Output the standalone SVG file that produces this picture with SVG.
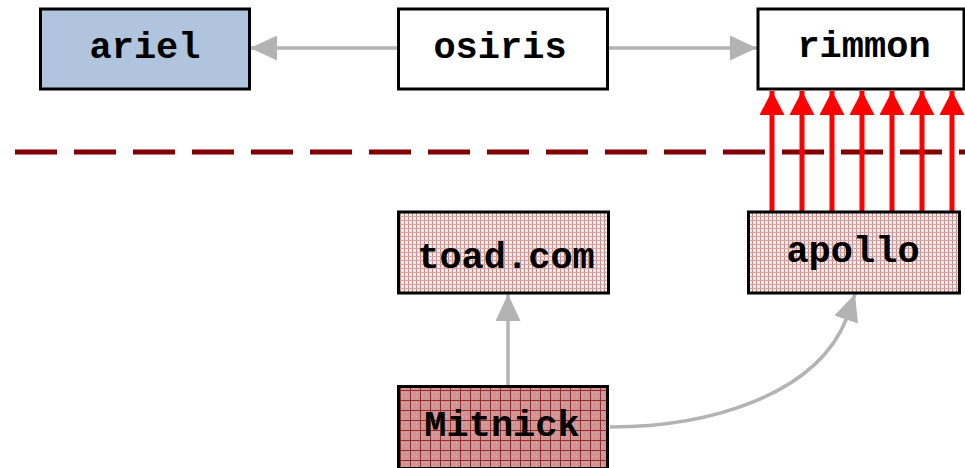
<svg xmlns="http://www.w3.org/2000/svg" width="965" height="468" viewBox="0 0 965 468">
  <style>
    .box { stroke: #000; stroke-width: 3; }
    .lbl { font-family: "Liberation Mono", "Courier New", monospace; font-weight: bold; font-size: 37px; text-anchor: middle; fill: #000; }
    .grey { fill: none; stroke: #b3b3b3; stroke-width: 3.5; }
    .red { fill: none; stroke: #ff0000; stroke-width: 5; }
  </style>
  <defs>
    <!-- fine plaid for the light-hatched hosts -->
    <pattern id="plaid" width="4" height="4" patternUnits="userSpaceOnUse">
      <rect width="4" height="4" fill="#f4e2e2"/>
      <rect x="0" y="0" width="1" height="4" fill="#c98a8a"/>
      <rect x="0" y="0" width="4" height="1" fill="#d9a5a5"/>
      <rect x="2" y="2" width="1" height="1" fill="#ffffff"/>
    </pattern>
    <!-- coarse grid for the attacker host -->
    <pattern id="grid" width="10" height="10" patternUnits="userSpaceOnUse">
      <rect width="10" height="10" fill="#d09494"/>
      <rect x="2" y="2" width="1" height="1" fill="#e2b4b4"/>
      <rect x="6" y="6" width="1" height="1" fill="#e2b4b4"/>
      <rect x="6" y="2" width="1" height="1" fill="#e2b4b4"/>
      <rect x="2" y="6" width="1" height="1" fill="#e2b4b4"/>
      <rect x="0" y="0" width="1" height="10" fill="#9b2a2a"/>
      <rect x="0" y="0" width="10" height="1" fill="#9b2a2a"/>
    </pattern>
    <marker id="ahGrey" viewBox="0 0 27 25" refX="27" refY="12.5" markerWidth="27" markerHeight="25" markerUnits="userSpaceOnUse" orient="auto">
      <path d="M0,0 L27,12.5 L0,25 Z" fill="#b3b3b3"/>
    </marker>
    <marker id="ahRed" viewBox="0 0 24 25" refX="24" refY="12.5" markerWidth="24" markerHeight="25" markerUnits="userSpaceOnUse" orient="auto">
      <path d="M0,0 L24,12.5 L0,25 Z" fill="#ff0000"/>
    </marker>
  </defs>

  <!-- trust boundary -->
  <line x1="15" y1="152" x2="965" y2="152" stroke="#800000" stroke-width="5" stroke-dasharray="42 17"/>

  <g id="connectors">
    <line class="grey" x1="398" y1="48" x2="250" y2="48" marker-end="url(#ahGrey)"/>
    <line class="grey" x1="608" y1="48" x2="757" y2="48" marker-end="url(#ahGrey)"/>
    <line class="grey" x1="508" y1="386" x2="508" y2="294" marker-end="url(#ahGrey)"/>
    <path class="grey" d="M610,427 C710,427 815,395 846,320 L855,294" marker-end="url(#ahGrey)"/>
    <line class="red" x1="772" y1="211" x2="772" y2="91" marker-end="url(#ahRed)"/>
    <line class="red" x1="802" y1="211" x2="802" y2="91" marker-end="url(#ahRed)"/>
    <line class="red" x1="832" y1="211" x2="832" y2="91" marker-end="url(#ahRed)"/>
    <line class="red" x1="862" y1="211" x2="862" y2="91" marker-end="url(#ahRed)"/>
    <line class="red" x1="892" y1="211" x2="892" y2="91" marker-end="url(#ahRed)"/>
    <line class="red" x1="922" y1="211" x2="922" y2="91" marker-end="url(#ahRed)"/>
    <line class="red" x1="952" y1="211" x2="952" y2="91" marker-end="url(#ahRed)"/>
  </g>

  <g id="ariel">
    <rect class="box" x="40.5" y="9" width="209" height="80" fill="#b0c4de"/>
    <text class="lbl" x="145" y="58">ariel</text>
  </g>
  <g id="osiris">
    <rect class="box" x="398.5" y="9" width="209" height="80" fill="#ffffff"/>
    <text class="lbl" x="500" y="58">osiris</text>
  </g>
  <g id="rimmon">
    <rect class="box" x="758" y="9" width="206" height="80" fill="#ffffff"/>
    <text class="lbl" x="864" y="57">rimmon</text>
  </g>
  <g id="toad.com">
    <rect class="box" x="398.5" y="212" width="210" height="81" fill="url(#plaid)"/>
    <text class="lbl" x="506" y="268">toad.com</text>
  </g>
  <g id="apollo">
    <rect class="box" x="748.5" y="212" width="211" height="81" fill="url(#plaid)"/>
    <text class="lbl" x="853" y="262">apollo</text>
  </g>
  <g id="Mitnick">
    <rect class="box" x="398.5" y="386.5" width="209" height="82" fill="url(#grid)"/>
    <text class="lbl" x="502" y="436">Mitnick</text>
  </g>
</svg>
